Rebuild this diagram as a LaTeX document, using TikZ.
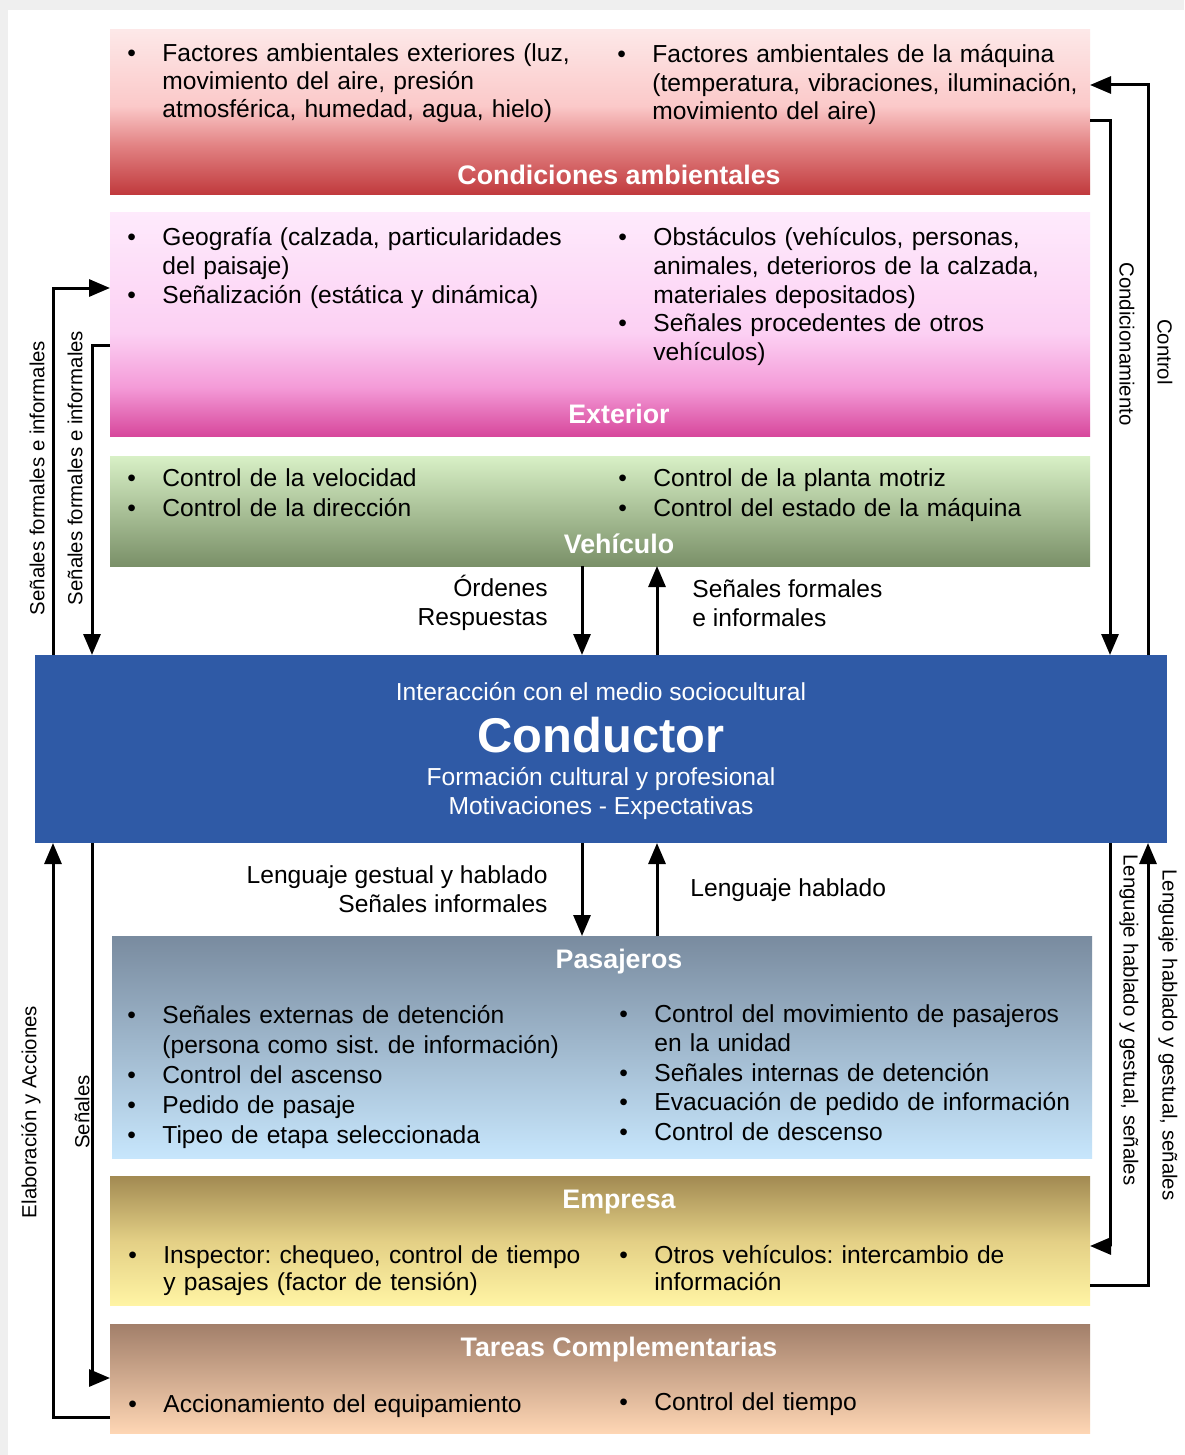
\documentclass[tikz,border=0pt]{standalone}
\usepackage{fontspec}
\setmainfont{Liberation Sans}
\usetikzlibrary{arrows.meta}
\frenchspacing

\definecolor{pageGrey}{HTML}{EFEFEF}
\definecolor{ambTop}{HTML}{FDE8E8}
\definecolor{ambLgt}{HTML}{FBC9C9}
\definecolor{ambMid}{HTML}{E28283}
\definecolor{ambBot}{HTML}{C0393C}
\definecolor{extTop}{HTML}{FEEAFC}
\definecolor{extLgt}{HTML}{FCD0F3}
\definecolor{extMid}{HTML}{F49BD8}
\definecolor{extBot}{HTML}{D7489C}
\definecolor{vehTop}{HTML}{D8F0C6}
\definecolor{vehBot}{HTML}{7A9068}
\definecolor{drvBlue}{HTML}{2F5AA6}
\definecolor{pasTop}{HTML}{798B9F}
\definecolor{pasBot}{HTML}{C7E6FC}
\definecolor{empTop}{HTML}{A28A52}
\definecolor{empMid}{HTML}{E3CF85}
\definecolor{empBot}{HTML}{FFF4A4}
\definecolor{tarTop}{HTML}{A27F6A}
\definecolor{tarBot}{HTML}{FED6B4}

\pgfdeclareverticalshading{ambshade}{100bp}{color(0bp)=(ambBot); color(25bp)=(ambBot); color(40bp)=(ambMid); color(52bp)=(ambLgt); color(75bp)=(ambTop); color(100bp)=(ambTop)}
\pgfdeclareverticalshading{extshade}{100bp}{color(0bp)=(extBot); color(25bp)=(extBot); color(36bp)=(extMid); color(48bp)=(extLgt); color(75bp)=(extTop); color(100bp)=(extTop)}
\pgfdeclareverticalshading{vehshade}{100bp}{color(0bp)=(vehBot); color(25bp)=(vehBot); color(75bp)=(vehTop); color(100bp)=(vehTop)}
\pgfdeclareverticalshading{passhade}{100bp}{color(0bp)=(pasBot); color(25bp)=(pasBot); color(75bp)=(pasTop); color(100bp)=(pasTop)}
\pgfdeclareverticalshading{empshade}{100bp}{color(0bp)=(empBot); color(25bp)=(empBot); color(50bp)=(empMid); color(75bp)=(empTop); color(100bp)=(empTop)}
\pgfdeclareverticalshading{tarshade}{100bp}{color(0bp)=(tarBot); color(25bp)=(tarBot); color(75bp)=(tarTop); color(100bp)=(tarTop)}

\newcommand{\bul}{\makebox[17.5pt][l]{\textbullet}}
\newcommand{\ind}{\hspace*{17.5pt}}

\tikzset{
  panel/.style={rectangle, inner sep=0, outer sep=0, draw=none},
  boxtitle/.style={anchor=base, inner sep=0, text=white, font=\fontsize{13.4}{16}\selectfont\bfseries},
  items/.style={anchor=base west, inner sep=0, text width=250pt, align=left, font=\fontsize{12.3}{14.5}\selectfont},
  drvtext/.style={anchor=base, inner sep=0, text=white, font=\fontsize{12.3}{14.5}\selectfont},
  lbl/.style={inner sep=0, font=\fontsize{12.3}{14.5}\selectfont},
  side/.style={inner sep=0, font=\fontsize{10.2}{12}\selectfont},
  link/.style={line width=1.5pt, -{Triangle[length=10.5pt,width=8.5pt]}}
}

\begin{document}
\begin{tikzpicture}[x=0.5pt, y=-0.5pt]
% page
\fill[pageGrey] (0,0) rectangle (1184,1455);
\fill[white] (8,10) rectangle (1184,1455);

% panels
\node[panel, shading=ambshade, minimum width=490pt, minimum height=82.5pt] (amb) at (600,112.5) {};
\node[panel, shading=extshade, minimum width=490pt, minimum height=111.5pt] (ext) at (600,324.5) {};
\node[panel, shading=vehshade, minimum width=490pt, minimum height=55pt] (veh) at (600,511) {};
\node[panel, fill=drvBlue, minimum width=566pt, minimum height=94pt] (drv) at (601,749) {};
\node[panel, shading=passhade, minimum width=490pt, minimum height=111pt] (pas) at (602,1047) {};
\node[panel, shading=empshade, minimum width=490pt, minimum height=64.5pt] (emp) at (600,1240.5) {};
\node[panel, shading=tarshade, minimum width=490pt, minimum height=54.5pt] (tar) at (600,1378.5) {};

% titles
\node[boxtitle] (ambT) at (619,184.5) {Condiciones ambientales};
\node[boxtitle] (extT) at (619,423.5) {Exterior};
\node[boxtitle] (vehT) at (619,553) {Vehículo};
\node[boxtitle] (pasT) at (619,968.5) {Pasajeros};
\node[boxtitle] (empT) at (619,1208.5) {Empresa};
\node[boxtitle] (tarT) at (619,1356.5) {Tareas Complementarias};

% conductor
\node[drvtext] (drvI) at (601,700) {Interacción con el medio sociocultural};
\node[drvtext, font=\fontsize{24.4}{28}\selectfont\bfseries] (drvN) at (601,752) {Conductor};
\node[drvtext] (drvF) at (601,785) {Formación cultural y profesional};
\node[drvtext] (drvM) at (601,814) {Motivaciones - Expectativas};

% contents
\node[items, font=\fontsize{12.3}{14}\selectfont] (ambL) at (127,62) {\bul Factores ambientales exteriores (luz,\\ \ind movimiento del aire, presión\\ \ind atmosférica, humedad, agua, hielo)};
\node[items, font=\fontsize{12.3}{14.25}\selectfont] (ambR) at (617,63) {\bul Factores ambientales de la máquina\\ \ind (temperatura, vibraciones, iluminación,\\ \ind movimiento del aire)};
\node[items] (extL) at (127,245) {\bul Geografía (calzada, particularidades\\ \ind del paisaje)\\ \bul Señalización (estática y dinámica)};
\node[items] (extR) at (618,245) {\bul Obstáculos (vehículos, personas,\\ \ind animales, deterioros de la calzada,\\ \ind materiales depositados)\\ \bul Señales procedentes de otros\\ \ind vehículos)};
\node[items, font=\fontsize{12.3}{15}\selectfont] (vehL) at (127,486) {\bul Control de la velocidad\\ \bul Control de la dirección};
\node[items, font=\fontsize{12.3}{15}\selectfont] (vehR) at (618,486) {\bul Control de la planta motriz\\ \bul Control del estado de la máquina};
\node[items, font=\fontsize{12.3}{15}\selectfont] (pasL) at (127,1023) {\bul Señales externas de detención\\ \ind (persona como sist. de información)\\ \bul Control del ascenso\\ \bul Pedido de pasaje\\ \bul Tipeo de etapa seleccionada};
\node[items, font=\fontsize{12.3}{14.75}\selectfont] (pasR) at (619,1022) {\bul Control del movimiento de pasajeros\\ \ind en la unidad\\ \bul Señales internas de detención\\ \bul Evacuación de pedido de información\\ \bul Control de descenso};
\node[items, font=\fontsize{12.3}{13.75}\selectfont] (empL) at (128,1263) {\bul Inspector: chequeo, control de tiempo\\ \ind y pasajes (factor de tensión)};
\node[items, font=\fontsize{12.3}{13.75}\selectfont] (empR) at (619,1263) {\bul Otros vehículos: intercambio de\\ \ind información};
\node[items] (tarL) at (128,1412) {\bul Accionamiento del equipamiento};
\node[items] (tarR) at (619,1410) {\bul Control del tiempo};

% labels of the middle arrows
\node[lbl, anchor=east, align=right] (lOrd) at (548,603) {Órdenes\\ Respuestas};
\node[lbl, anchor=west, align=left] (lSfe) at (692,603) {Señales formales\\ e informales};
\node[lbl, anchor=east, align=right] (lLgh) at (548,889) {Lenguaje gestual y hablado\\ Señales informales};
\node[lbl, anchor=west] (lLh) at (690,890) {Lenguaje hablado};

% side labels
\node[side, rotate=90] (lSfi1) at (37,478) {Señales formales e informales};
\node[side, rotate=90] (lSfi2) at (75,468) {Señales formales e informales};
\node[side, rotate=-90] (lCond) at (1127,344) {Condicionamiento};
\node[side, rotate=-90] (lCtrl) at (1165,352) {Control};
\node[side, rotate=90] (lElab) at (31,1112) {Elaboración y Acciones};
\node[side, rotate=90] (lSen) at (82,1112) {Señales};
\node[side, rotate=-90] (lLen1) at (1129,1020) {Lenguaje hablado y gestual, señales};
\node[side, rotate=-90] (lLen2) at (1168,1035) {Lenguaje hablado y gestual, señales};

% arrow lanes
\coordinate (xL1) at (53,0);
\coordinate (xL2) at (92,0);
\coordinate (xM1) at (582,0);
\coordinate (xM2) at (657,0);
\coordinate (xR1) at (1110,0);
\coordinate (xR2) at (1148,0);
\coordinate (yExtIn) at (0,288);
\coordinate (yExtOut) at (0,345);
\coordinate (yAmbIn) at (0,85);
\coordinate (yAmbOut) at (0,121);
\coordinate (yTarIn) at (0,1378);
\coordinate (yTarOut) at (0,1417);
\coordinate (yEmpIn) at (0,1246);
\coordinate (yEmpOut) at (0,1285);

% arrows
\draw[link] (drv.north -| xL1) |- (ext.west |- yExtIn);
\draw[link] (ext.west |- yExtOut) -| (drv.north -| xL2);
\draw[link] (drv.north -| xR2) |- (amb.east |- yAmbIn);
\draw[link] (amb.east |- yAmbOut) -| (drv.north -| xR1);
\draw[link] (veh.south -| xM1) -- (drv.north -| xM1);
\draw[link] (drv.north -| xM2) -- (veh.south -| xM2);
\draw[link] (drv.south -| xM1) -- (pas.north -| xM1);
\draw[link] (pas.north -| xM2) -- (drv.south -| xM2);
\draw[link] (tar.west |- yTarOut) -| (drv.south -| xL1);
\draw[link] (drv.south -| xL2) |- (tar.west |- yTarIn);
\draw[link] (drv.south -| xR1) |- (emp.east |- yEmpIn);
\draw[link] (emp.east |- yEmpOut) -| (drv.south -| xR2);
\end{tikzpicture}
\end{document}
